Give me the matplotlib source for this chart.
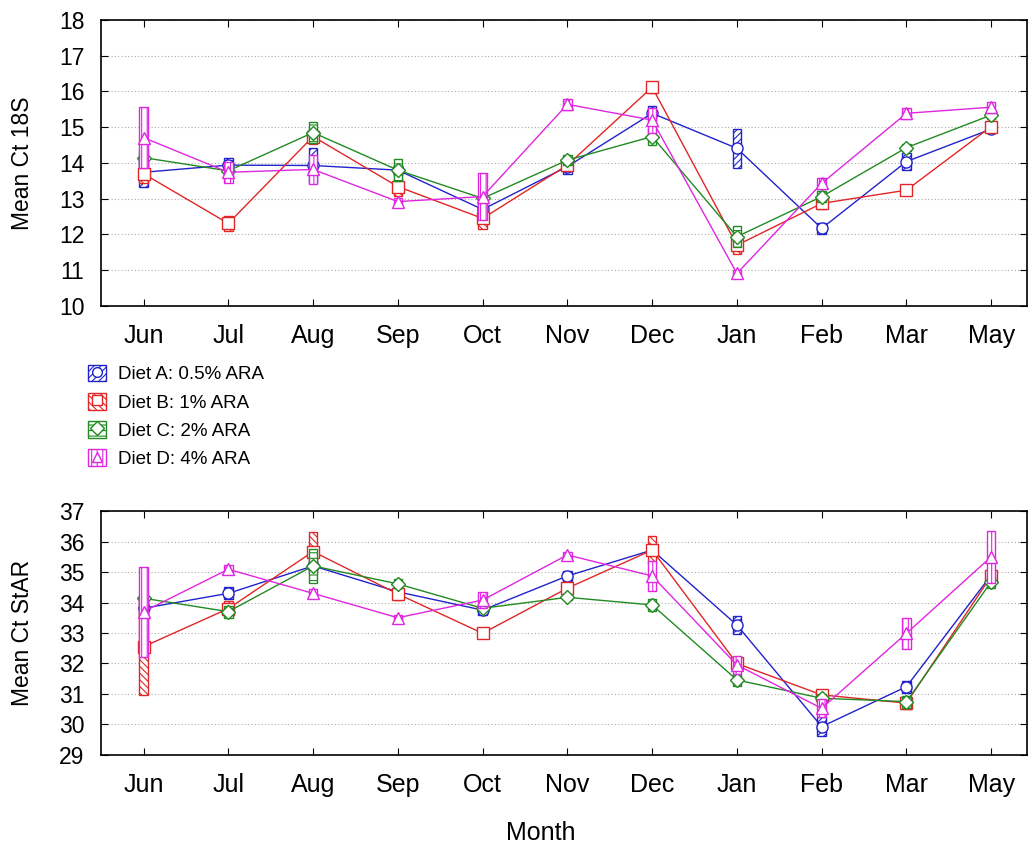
import numpy as np
import matplotlib
matplotlib.use("Agg")
import matplotlib.pyplot as plt
from matplotlib.patches import Rectangle, Patch
from matplotlib.lines import Line2D

plt.rcParams['font.family'] = ['Liberation Sans', 'DejaVu Sans']
plt.rcParams['hatch.linewidth'] = 0.8

months = ["Jun", "Jul", "Aug", "Sep", "Oct", "Nov", "Dec", "Jan", "Feb", "Mar", "May"]
diets = ["Diet A: 0.5% ARA", "Diet B: 1% ARA", "Diet C: 2% ARA", "Diet D: 4% ARA"]

# Mean Ct 18S (top) and its standard errors
ct18s_a = [13.74, 13.94, 13.93, 13.80, 12.70, 13.90, 15.39, 14.41, 12.17, 14.04, 14.95]
ct18s_b = [13.70, 12.31, 14.74, 13.34, 12.45, 13.94, 16.12, 11.70, 12.87, 13.24, 15.02]
ct18s_c = [14.15, 13.78, 14.85, 13.80, 13.01, 14.08, 14.74, 11.94, 13.06, 14.43, 15.34]
ct18s_d = [14.71, 13.74, 13.82, 12.92, 13.06, 15.64, 15.20, 10.91, 13.43, 15.39, 15.56]
se18s_a = [0.40, 0.20, 0.50, 0.15, 0.15, 0.20, 0.20, 0.55, 0.15, 0.25, 0.10]
se18s_b = [0.25, 0.20, 0.20, 0.25, 0.30, 0.15, 0.15, 0.25, 0.15, 0.12, 0.15]
se18s_c = [0.20, 0.10, 0.30, 0.30, 0.10, 0.15, 0.25, 0.30, 0.15, 0.10, 0.10]
se18s_d = [0.85, 0.30, 0.40, 0.10, 0.65, 0.15, 0.35, 0.10, 0.15, 0.15, 0.15]

# Mean Ct StAR (bottom) and its standard errors
star_a = [33.81, 34.30, 35.20, 34.35, 33.75, 34.87, 35.72, 33.26, 29.93, 31.24, 34.90]
star_b = [32.55, 33.80, 35.67, 34.28, 32.99, 34.47, 35.72, 32.00, 30.97, 30.70, 34.87]
star_c = [34.14, 33.70, 35.20, 34.61, 33.81, 34.17, 33.92, 31.46, 30.86, 30.75, 34.68]
star_d = [33.70, 35.09, 34.30, 33.50, 34.08, 35.56, 34.87, 31.95, 30.53, 32.99, 35.50]
sestar_a = [0.30, 0.20, 0.15, 0.15, 0.15, 0.15, 0.20, 0.30, 0.30, 0.20, 0.20]
sestar_b = [1.58, 0.25, 0.65, 0.20, 0.10, 0.20, 0.45, 0.20, 0.10, 0.20, 0.15]
sestar_c = [0.10, 0.20, 0.55, 0.15, 0.10, 0.10, 0.20, 0.20, 0.15, 0.20, 0.20]
sestar_d = [1.48, 0.15, 0.15, 0.10, 0.25, 0.10, 0.50, 0.30, 0.30, 0.50, 0.85]

colors = ["#2222cc", "#e02626", "#228a22", "#e026e0"]
markers = ["o", "s", "D", "^"]
hatches = ["/////", "\\\\\\\\\\", "---", "|||"]

x = np.arange(len(months))


def draw_panel(ax, means, ses, ylim, ylabel):
    for i, (m, s) in enumerate(zip(means, ses)):
        m = np.array(m)
        s = np.array(s)
        c = colors[i]
        for xi, mi, si in zip(x, m, s):
            ax.add_patch(Rectangle((xi - 0.05, mi - si), 0.1, 2 * si, facecolor="white",
                                   edgecolor=c, hatch=hatches[i], lw=1.0, zorder=2 + i))
        ax.plot(x, m, color=c, lw=1.0, zorder=2.5 + i)
        ax.plot(x, m, ls="none", marker=markers[i], ms=8 if markers[i] != "D" else 7,
                mfc="white", mec=c, mew=1.0, zorder=2.6 + i)
    ax.set_xlim(-0.5, 10.42)
    ax.set_ylim(*ylim)
    ax.set_yticks(range(ylim[0], ylim[1] + 1))
    ax.set_xticks(x)
    ax.set_xticklabels(months)
    ax.tick_params(direction="in", top=True, right=True, length=5, labelright=False)
    ax.tick_params(axis="x", labelsize=18, pad=13)
    ax.tick_params(axis="y", labelsize=16.5, pad=12)
    ax.grid(axis="y", ls=(0, (1, 2)), color="#aaaaaa", lw=0.8)
    ax.set_ylabel(ylabel, fontsize=16.5)
    ax.yaxis.set_label_coords(-0.073, 0.5)
    for sp in ax.spines.values():
        sp.set_linewidth(1.2)


fig = plt.figure(figsize=(10.32, 8.5), dpi=100)
ax1 = fig.add_axes([0.098, 0.64, 0.897, 0.3365])
ax2 = fig.add_axes([0.098, 0.1118, 0.897, 0.287])

draw_panel(ax1, [ct18s_a, ct18s_b, ct18s_c, ct18s_d],
           [se18s_a, se18s_b, se18s_c, se18s_d], (10, 18), "Mean Ct 18S")
draw_panel(ax2, [star_a, star_b, star_c, star_d],
           [sestar_a, sestar_b, sestar_c, sestar_d], (29, 37), "Mean Ct StAR")
fig.text(541 / 1032, 1 - 833 / 850, "Month", fontsize=18, ha="center", va="center")

handles = []
for i in range(4):
    p = Patch(facecolor="white", edgecolor=colors[i], hatch=hatches[i])
    mk = Line2D([], [], ls="none", marker=markers[i], ms=7, mfc="white", mec=colors[i])
    handles.append((p, mk))
fig.legend(handles, diets, loc="upper left", bbox_to_anchor=(0.085, 0.571),
           frameon=False, fontsize=13.5, handlelength=1.0, handleheight=1.0,
           handletextpad=0.6, labelspacing=0.5, borderaxespad=0, borderpad=0)

fig.savefig("out.png", dpi=100)
